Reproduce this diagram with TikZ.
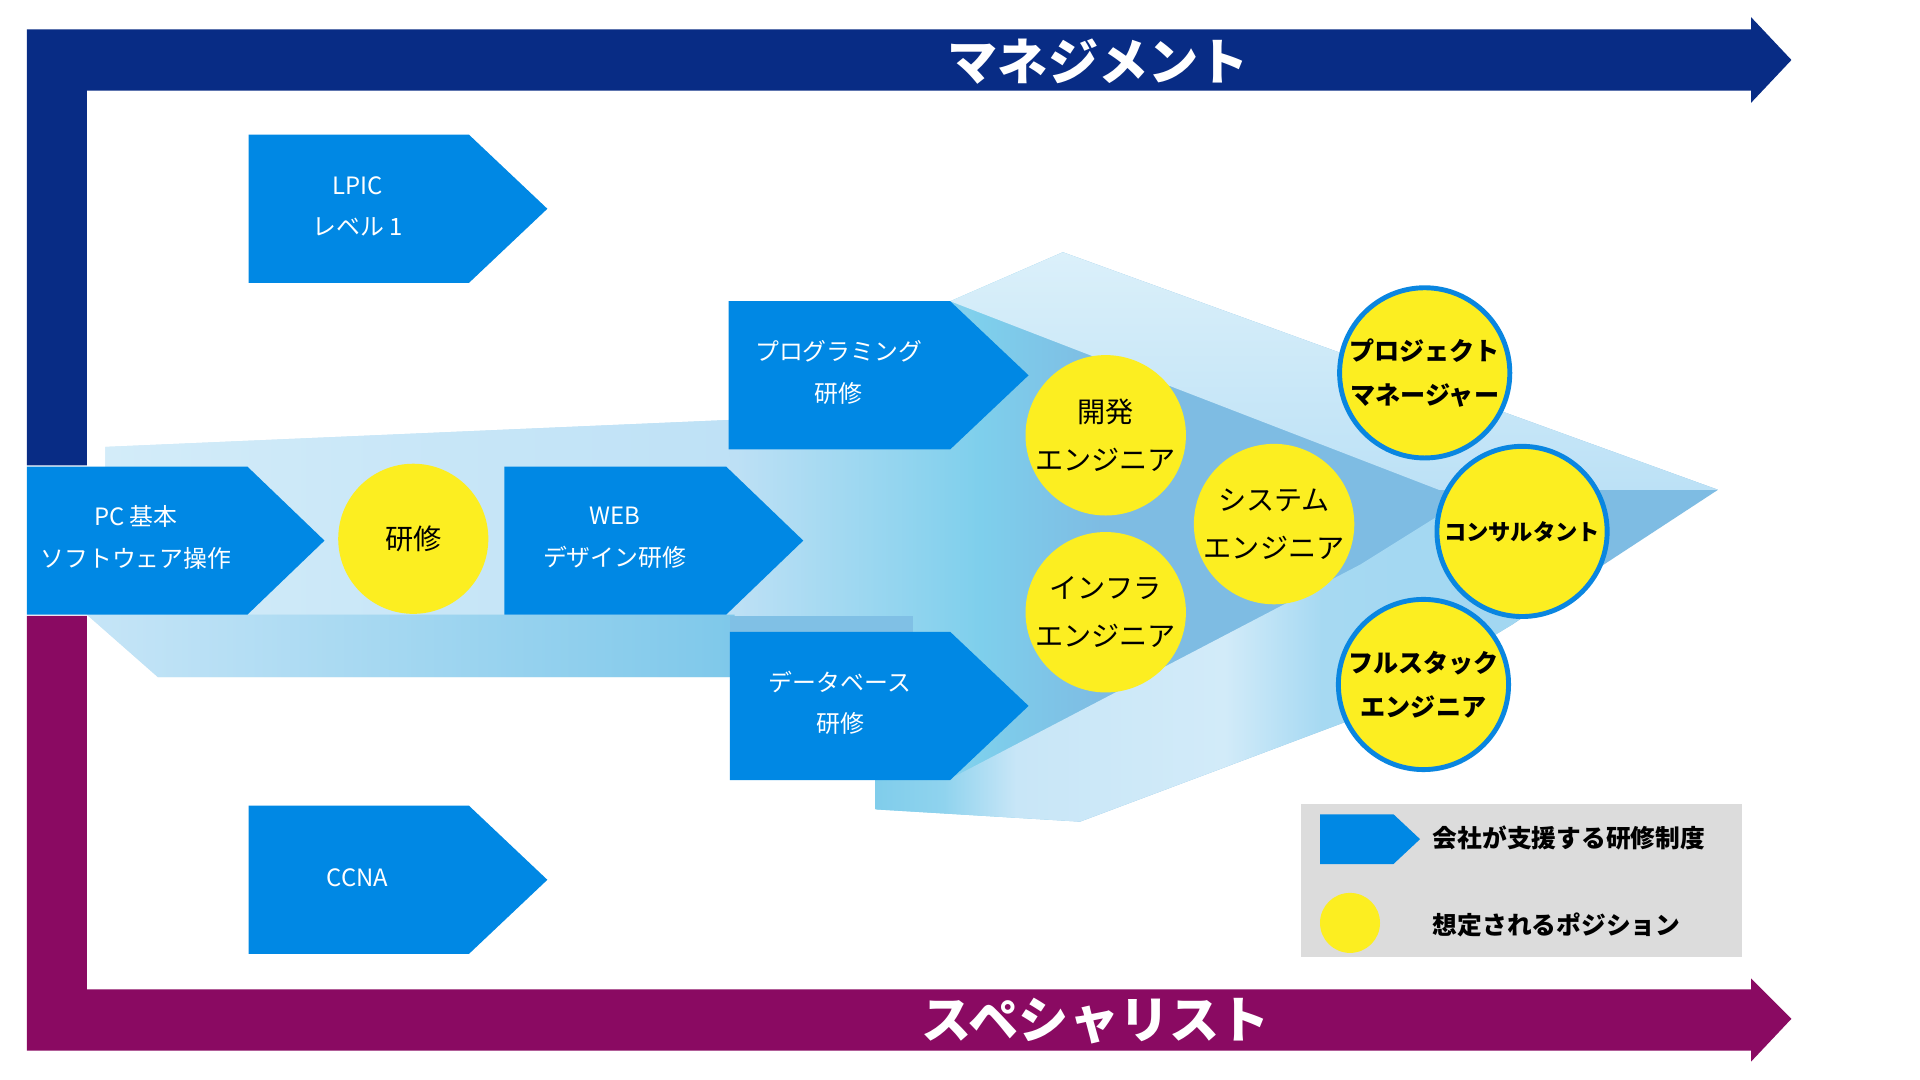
\documentclass[tikz,border=0pt]{standalone}
\usepackage{fontspec}
\setmainfont{Noto Sans CJK JP}
\definecolor{navy}{HTML}{082C85}
\definecolor{purp}{HTML}{8A0A62}
\definecolor{pblue}{HTML}{0088E4}
\definecolor{cyel}{HTML}{FCEE21}
\definecolor{cbord}{HTML}{0A86E0}
\definecolor{lgray}{HTML}{DCDCDC}
\definecolor{bA}{HTML}{CFEAF8}
\definecolor{bB}{HTML}{BDE0F5}
\definecolor{bC}{HTML}{7ECFEC}
\definecolor{bD}{HTML}{7EBCE3}
\definecolor{uL}{HTML}{D3ECF9}
\definecolor{uR}{HTML}{BEE1F6}
\definecolor{lL}{HTML}{C6E5F7}
\definecolor{lM}{HTML}{8FD0EE}
\definecolor{lR}{HTML}{7EC8EA}
\definecolor{sD}{HTML}{80C0E5}
\definecolor{wT}{HTML}{DBF0FA}
\definecolor{wB}{HTML}{BCE1F6}
\definecolor{gA}{HTML}{80CDEB}
\definecolor{gB}{HTML}{8FD3EE}
\definecolor{gC}{HTML}{C8E6F7}
\definecolor{gD}{HTML}{D2EBF9}
\definecolor{gE}{HTML}{A6D9F2}
\definecolor{gF}{HTML}{A0D6F1}
\pgfdeclarehorizontalshading{bodyshade}{100bp}{color(0bp)=(bA); color(25.6bp)=(bA); color(44.9bp)=(bB); color(52.4bp)=(bC); color(56.1bp)=(bD); color(100bp)=(bD)}
\pgfdeclarehorizontalshading{wingshade}{100bp}{color(0bp)=(gA); color(25bp)=(gA); color(29.8bp)=(gB); color(35bp)=(gC); color(49.8bp)=(gD); color(56.7bp)=(gE); color(75bp)=(gF); color(100bp)=(gF)}
\begin{document}
\begin{tikzpicture}[x=1pt,y=-1pt,
  pent/.style={fill=pblue},
  ptext/.style={text=white, align=center, inner sep=0pt, font=\fontsize{19.5}{34}\selectfont},
  ycirc/.style={circle, fill=cyel, inner sep=0pt, minimum size=131pt, align=center, text=black, font=\fontsize{23}{39}\selectfont},
  bcirc/.style={circle, fill=cyel, draw=cbord, line width=4pt, inner sep=0pt, minimum size=139pt, align=center, text=black, font=\bfseries\fontsize{20.5}{36}\selectfont},
  titletext/.style={text=white, inner sep=0pt, font=\bfseries\fontsize{41}{41}\selectfont},
  legtext/.style={anchor=west, inner sep=0pt, text=black, font=\bfseries\fontsize{20.2}{22}\selectfont}]
\useasboundingbox (0,0) rectangle (1568,882);
\fill[white] (0,0) rectangle (1568,882);
% background ribbon
\shade[shading=bodyshade] (86,365) -- (595,343) -- (776,246) -- (868,206) -- (1403,400) -- (1235,510) -- (1111,585) -- (882,671) -- (715,661) -- (715,630) -- (600,630) -- (600,553) -- (129,553) -- (71,502) -- (86,490) -- cycle;
\shade[left color=uL, right color=uR] (86,365) -- (595,343) -- (600,502) -- (86,502) -- cycle;
\shade[left color=lL, middle color=lM, right color=lR] (71,502) -- (600,502) -- (600,553) -- (129,553) -- cycle;
\fill[sD] (596,503) rectangle (746,516);
\shade[top color=wT, bottom color=wB] (776,246) -- (868,206) -- (1403,400) -- (1175,400) -- cycle;
\shade[shading=wingshade] (715,637) -- (776,636) -- (1111,461) -- (1175,421) -- (1290,470) -- (1235,510) -- (1111,585) -- (882,671) -- (715,661) -- cycle;
% frames
\fill[navy] (22,24) -- (1430,24) -- (1430,14) -- (1463,49) -- (1430,84) -- (1430,74) -- (71,74) -- (71,380) -- (22,380) -- cycle;
\fill[purp] (22,503) -- (71,503) -- (71,808) -- (1430,808) -- (1430,799) -- (1463,832) -- (1430,867) -- (1430,858) -- (22,858) -- cycle;
\node[titletext] (mgmt) at (897,50) {マネジメント};
\node[titletext] (spec) at (895,834) {スペシャリスト};
% pentagons
\fill[pent] (203,110) -- (383,110) -- (447,170.5) -- (383,231) -- (203,231) -- cycle;
\fill[pent] (22,381) -- (202,381) -- (265,441.5) -- (202,502) -- (22,502) -- cycle;
\fill[pent] (412,381) -- (593,381) -- (656,441.5) -- (593,502) -- (412,502) -- cycle;
\fill[pent] (595,246) -- (776,246) -- (840,306.5) -- (776,367) -- (595,367) -- cycle;
\fill[pent] (596,516) -- (776,516) -- (840,576.5) -- (776,637) -- (596,637) -- cycle;
\fill[pent] (203,658) -- (383,658) -- (447,718.5) -- (383,779) -- (203,779) -- cycle;
\node[ptext] (lpic) at (292,168.5) {LPIC\\レベル 1};
\node[ptext] (pc) at (111,439) {PC 基本\\ソフトウェア操作};
\node[ptext] (web) at (502,439) {WEB\\デザイン研修};
\node[ptext] (prog) at (685,304) {プログラミング\\研修};
\node[ptext] (db) at (686,574) {データベース\\研修};
\node[ptext] (ccna) at (292,717) {CCNA};
% circles
\node[ycirc, minimum size=122.6pt] (kenshu) at (337.5,440) {研修};
\node[ycirc] (dev) at (903,355.5) {開発\\エンジニア};
\node[ycirc] (infra) at (903,500) {インフラ\\エンジニア};
\node[ycirc] (sys) at (1040.5,428) {システム\\エンジニア};
\node[bcirc] (pm) at (1163.5,304.5) {プロジェクト\\マネージャー};
\node[bcirc, font=\bfseries\fontsize{18.2}{30}\selectfont] (cons) at (1243,434) {コンサルタント};
\node[bcirc] (fs) at (1162.5,559) {フルスタック\\エンジニア};
% legend
\fill[lgray] (1062.5,656.5) rectangle (1422.5,781.5);
\fill[pent] (1078,665) -- (1138,665) -- (1159.7,685.3) -- (1138,705.6) -- (1078,705.6) -- cycle;
\node[circle, fill=cyel, minimum size=49pt, inner sep=0pt] (legc) at (1102.5,753.7) {};
\node[legtext] (leg1) at (1170,684) {会社が支援する研修制度};
\node[legtext] (leg2) at (1170,755.5) {想定されるポジション};
\end{tikzpicture}
\end{document}
